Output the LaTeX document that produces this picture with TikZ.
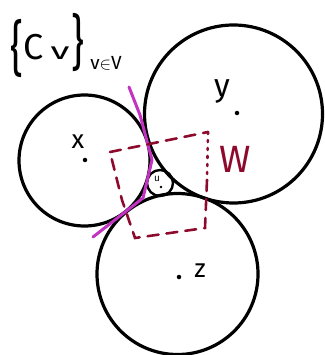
\documentclass[tikz,border=0pt]{standalone}
\usepackage{fontspec}
\usepackage{graphicx}
\setsansfont{Fira Sans}
\begin{document}
\begin{tikzpicture}[x=1pt,y=-1pt,
  disk/.style={circle,draw=black,line width=3.2pt,inner sep=0pt},
  pt/.style={circle,fill=black,inner sep=0pt,minimum size=4.5pt},
  lbl/.style={inner sep=0pt},
  tang/.style={draw=violet!60!magenta!80!white,line width=3pt,line cap=round,line join=round},
  wbox/.style={draw=wred,line width=2.6pt,dash pattern=on 11pt off 8pt,line cap=round}]
\definecolor{wred}{HTML}{8E0A2C}
\useasboundingbox (0,0) rectangle (324,355);
\node[disk,minimum size=131pt] (cx) at (84.5,160.5) {};
\node[disk,minimum size=178pt] (cy) at (233.5,114) {};
\node[disk,minimum size=161pt] (cz) at (177.5,274) {};
\node[disk,line width=2.4pt,minimum size=26pt] (cu) at (160,183) {};
% labels
\node[lbl,font=\sffamily\fontsize{26}{26}\selectfont] (lx) at (78,142) {x};
\node[pt] (dx) at (85,160) {};
\node[lbl,font=\sffamily\fontsize{32}{32}\selectfont] (ly) at (222,91) {y};
\node[pt] (dy) at (237,113) {};
\node[lbl,font=\sffamily\fontsize{26}{26}\selectfont] (lz) at (200,271) {z};
\node[pt] (dz) at (179,277) {};
\node[lbl,font=\sffamily\fontsize{10}{10}\selectfont] (lu) at (157,179) {u};
\node[circle,fill=black,inner sep=0pt,minimum size=2.6pt] (du) at (161,187) {};
\node[lbl,font=\sffamily\fontsize{38}{38}\selectfont,text=wred] (lw) at (235,159) {W};
% title
\node[lbl,font=\sffamily\fontsize{40}{40}\selectfont] (bl) at (17,49) {\scalebox{1}[1.5]{\{}};
\node[lbl,font=\sffamily\fontsize{36}{36}\selectfont,anchor=base] (tc) at (34,60) {C};
\node[lbl,font=\sffamily\fontsize{24}{24}\selectfont,anchor=base] (tv) at (60,60) {\scalebox{1.6}[1]{v}};
\node[lbl,font=\sffamily\fontsize{40}{40}\selectfont] (br) at (78,43) {\scalebox{1}[1.5]{\}}};
\node[lbl,font=\sffamily\fontsize{19}{19}\selectfont,anchor=base] (sub) at (106,70) {v$\in$V};
% tangent line
\coordinate (t1) at (129,87);
\coordinate (t2) at (140,115);
\coordinate (t3) at (152,160);
\coordinate (t4) at (143,198);
\coordinate (t5) at (93,237);
\draw[tang] (t1) -- (t2) -- (t3) -- (t4) -- (t5);
% W region
\coordinate (w1) at (110,152);
\coordinate (w2) at (208,132);
\coordinate (w2b) at (207,180);
\coordinate (w3) at (205,228);
\coordinate (w4) at (135,238);
\coordinate (w5) at (122,200);
\draw[wbox] (w1) -- (w2);
\draw[wred,line width=2.6pt,dash pattern=on 2pt off 6pt,line cap=round] (w2) -- (w2b);
\draw[wbox] (w2b) -- (w3) -- (w4) -- (w5) -- (w1);
\end{tikzpicture}
\end{document}
